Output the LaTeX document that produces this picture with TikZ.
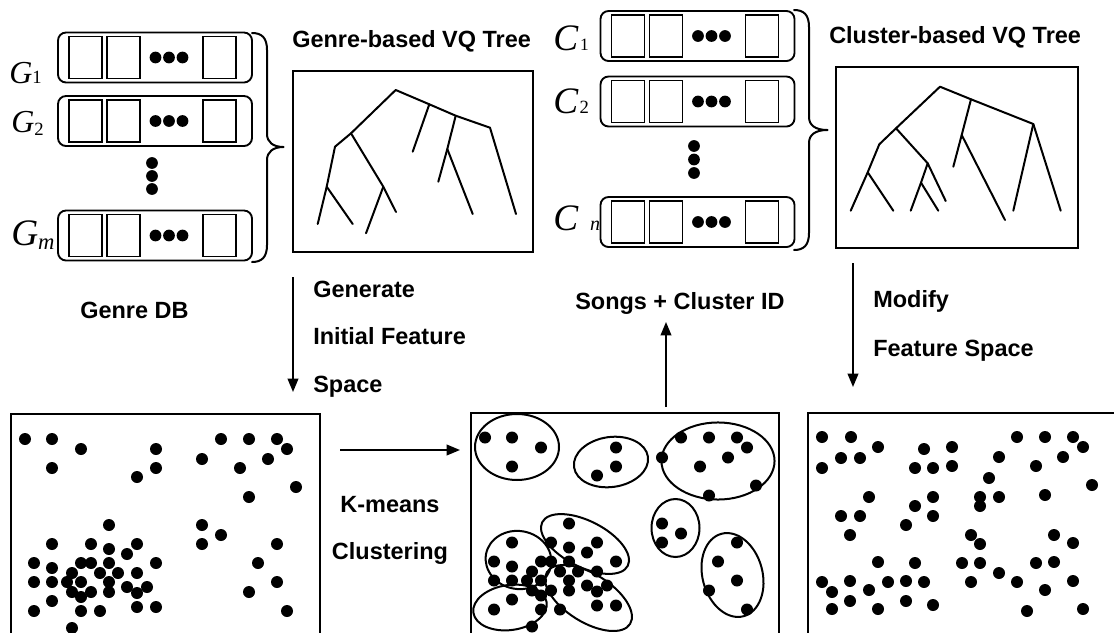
\documentclass[tikz,border=0pt]{standalone}
\usepackage{fontspec}
\setmainfont{Liberation Serif}
\setsansfont{Liberation Sans}
\usetikzlibrary{arrows.meta,calc}
\tikzset{
  ln/.style={line width=1.5pt, line join=round, line cap=round},
  rowbox/.style={draw, line width=1.4pt, rounded corners=6pt, minimum width=145.5pt, minimum height=37.5pt, inner sep=0pt},
  cell/.style={draw, line width=1.4pt, minimum width=24.75pt, minimum height=31.5pt, inner sep=0pt},
  treebox/.style={draw, line width=1.4pt, inner sep=0pt},
  lbl/.style={font=\sffamily\bfseries\fontsize{17.6}{20}\selectfont, inner sep=0pt, anchor=base west},
  arr/.style={line width=1.3pt, -{Triangle[width=8pt,length=10pt]}},
  ell/.style={line width=1.5pt},
  mathlbl/.style={inner sep=0pt, anchor=base west},
}
\newcommand\vqrow[3]{%
  \node[rowbox] (#1) at (#2,#3) {};
  \node[cell] (#1a) at (#2-69.5,#3) {};
  \node[cell] (#1b) at (#2-31.5,#3) {};
  \node[cell] (#1c) at (#2+64.5,#3) {};
  \fill (#2+0.5,#3) circle[radius=4.4pt] (#2+14,#3) circle[radius=4.4pt] (#2+27.5,#3) circle[radius=4.4pt];
}
\def\dotsA{25/439,52/439,81/449,156/449,52/468,156/468,137/477,221/439,249/439,277/439,287/449,202/459,268/459,240/468,296/487,249/497,109/525,202/525,221/535,52/544,91/544,137/544,109/549,127/554,202/544,277/544,34/563,81/563,91/563,109/563,156/563,258/563,52/568,72/573,100/573,118/573,137/573,34/582,52/582,67/582,81/582,109/582,277/582,72/592,91/592,109/592,127/587,137/593,147/587,81/597,249/592,52/601,34/611,81/611,100/611,137/607,156/607,287/611,72/628}
\def\dotsB{822/437,851/437,878/447,924/449,952/447,1017/437,1045/437,1073/437,1083/447,841/458,860/458,822/468,915/468,933/468,952/466,999/457,1063/457,1036/466,989/478,1092/485,869/497,933/497,980/497,999/497,1045/495,915/506,980/506,841/516,860/516,933/516,906/525,850/535,971/535,980/544,1054/535,1073/543,878/562,915/563,962/563,980/563,1036/563,1054/562,999/573,822/582,850/581,888/582,906/581,924/582,971/582,1017/582,1073/581,832/592,869/590,1045/590,850/601,906/601,933/605,832/609,878/609,1027/611,1083/609}
\begin{document}
\begin{tikzpicture}[x=0.75pt,y=-0.75pt]
\useasboundingbox (0,0) rectangle (1114,632);

% ---------- genre rows ----------
\vqrow{g1}{155}{57.5}
\vqrow{g2}{155}{121}
\vqrow{gm}{155}{235.5}
\fill (152,163) circle[radius=4.4pt] (152,176) circle[radius=4.4pt] (152,189) circle[radius=4.4pt];
\node[mathlbl] (lg1) at (9,83) {\fontsize{24}{24}\selectfont\itshape G\upshape\fontsize{14}{14}\selectfont 1};
\node[mathlbl] (lg2) at (11,132) {\fontsize{24}{24}\selectfont\itshape G\upshape\fontsize{14}{14}\selectfont\raisebox{-2.5pt}{2}};
\node[mathlbl] (lgm) at (11,245) {\fontsize{28}{28}\selectfont\itshape G\fontsize{17}{17}\selectfont\raisebox{-3pt}{m}};
\draw[ln] (252,33) .. controls (262,33) and (267,38) .. (267,50) -- (267,134)
  .. controls (267,142) and (273,147) .. (283.5,147)
  .. controls (273,147) and (267,152) .. (267,160) -- (267,245)
  .. controls (267,257) and (262,262) .. (252,262);

% ---------- cluster rows ----------
\vqrow{c1}{697.5}{36}
\vqrow{c2}{697.5}{101.5}
\vqrow{cn}{697.5}{222}
\fill (694,146) circle[radius=4.4pt] (694,159.5) circle[radius=4.4pt] (694,173) circle[radius=4.4pt];
\node[mathlbl] (lc1) at (553,50) {\fontsize{28}{28}\selectfont\itshape C\kern1.5pt\upshape\fontsize{13}{13}\selectfont 1};
\node[mathlbl] (lc2) at (553,113) {\fontsize{28}{28}\selectfont\itshape C\kern1pt\upshape\fontsize{14}{14}\selectfont 2};
\node[mathlbl] (lcn) at (553,230) {\fontsize{28}{28}\selectfont\itshape C\hspace{9pt}\fontsize{15}{15}\selectfont n};
\draw[ln] (794,10) .. controls (804,10) and (809,15) .. (809,27) -- (809,117)
  .. controls (809,125) and (815,130) .. (827.5,130)
  .. controls (815,130) and (809,135) .. (809,143) -- (809,233)
  .. controls (809,245) and (804,250) .. (794,250);

% ---------- tree boxes ----------
\node[lbl] (tg) at (292,47) {Genre-based VQ Tree};
\node[treebox, minimum width=180pt, minimum height=135.75pt] (gtree) at (413,161.5) {};
\draw[ln] (335,146.7) -- (351,133.3) -- (395.7,90) -- (429.3,104.3) -- (455.7,115.7) -- (490,127.7) -- (516,214);
\draw[ln] (429.3,104.3) -- (412.7,151.7);
\draw[ln] (455.7,115.7) -- (447.3,149) -- (438.3,181.7);
\draw[ln] (447.3,149) -- (472.7,214);
\draw[ln] (335,146.7) -- (326.7,186.7) -- (317.7,224);
\draw[ln] (326.7,186.7) -- (352.7,224);
\draw[ln] (351,133.3) -- (383.3,186.7) -- (396,212);
\draw[ln] (383.3,186.7) -- (366,233.3);

\node[lbl] (tc) at (829,43) {Cluster-based VQ Tree};
\node[treebox, minimum width=181.5pt, minimum height=135.75pt] (ctree) at (957,157.5) {};
\draw[ln] (879.3,144.3) -- (896,128.3) -- (940,86.7) -- (971,99.3) -- (1033.3,124) -- (1060.7,210.7);
\draw[ln] (1033.3,124) -- (1013.3,210.7);
\draw[ln] (971,99.3) -- (961.7,135) -- (953.3,166.7);
\draw[ln] (961.7,135) -- (1005,220);
\draw[ln] (879.3,144.3) -- (867.7,172.3) -- (850.7,210.7);
\draw[ln] (867.7,172.3) -- (893.3,210.7);
\draw[ln] (896,128.3) -- (927.7,163.3) -- (945.7,201);
\draw[ln] (927.7,163.3) -- (921,182.7) -- (910.7,210.7);
\draw[ln] (921,182.7) -- (938.3,210.7);

% ---------- labels and arrows ----------
\node[lbl] (gdb) at (80,318) {Genre DB};
\node[lbl] (gen1) at (313,297) {Generate};
\node[lbl] (gen2) at (313,344) {Initial Feature};
\node[lbl] (gen3) at (313,392) {Space};
\node[lbl] (songs) at (575,309) {Songs + Cluster ID};
\node[lbl] (mod1) at (873,307) {Modify};
\node[lbl] (mod2) at (873,356) {Feature Space};
\node[lbl, anchor=base] (km1) at (390,512) {K-means};
\node[lbl, anchor=base] (km2) at (390,559) {Clustering};

\coordinate (a1s) at (293,277); \coordinate (a1e) at (293,392);
\coordinate (a2s) at (666,407); \coordinate (a2e) at (666,322);
\coordinate (a3s) at (853,263); \coordinate (a3e) at (853,387);
\coordinate (a4s) at (340,450); \coordinate (a4e) at (460,450);
\draw[arr] (a1s) -- (a1e);
\draw[arr] (a2s) -- (a2e);
\draw[arr] (a3s) -- (a3e);
\draw[arr] (a4s) -- (a4e);

% ---------- bottom boxes ----------
\draw[line width=1.4pt] (11,650) -- (11,414) -- (320,414) -- (320,650);
\draw[line width=1.4pt] (471,650) -- (471,413) -- (779,413) -- (779,650);
\draw[line width=1.4pt] (808,650) -- (808,413) -- (1125,413);

\foreach \x/\y in \dotsA { \fill (\x,\y) circle[radius=4.5pt]; }

\draw[ell] (517,447) ellipse[x radius=31.5pt, y radius=24.75pt];
\draw[ell, rotate around={8:(611,462)}] (611,462) ellipse[x radius=28pt, y radius=18.75pt];
\draw[ell] (718,461) ellipse[x radius=42.4pt, y radius=28.9pt];
\draw[ell] (675.5,528) ellipse[x radius=18pt, y radius=21.75pt];
\draw[ell, rotate around={15:(732.5,575)}] (732.5,575) ellipse[x radius=22.5pt, y radius=32pt];
\draw[ell, rotate around={-10:(518.5,560)}] (518.5,560) ellipse[x radius=24.75pt, y radius=21.75pt];
\draw[ell, rotate around={-27:(585,544)}] (585,544) ellipse[x radius=36pt, y radius=17.25pt];
\draw[ell, rotate around={-32:(588.5,598)}] (588.5,598) ellipse[x radius=36.75pt, y radius=18pt];
\draw[ell, rotate around={8:(510,607.5)}] (510,607.5) ellipse[x radius=27.75pt, y radius=16.9pt];
\begin{scope}[shift={(460,-1.5)}]
\foreach \x/\y in \dotsA { \fill (\x,\y) circle[radius=4.5pt]; }
\end{scope}

\foreach \x/\y in \dotsB { \fill (\x,\y) circle[radius=4.5pt]; }
\end{tikzpicture}
\end{document}
